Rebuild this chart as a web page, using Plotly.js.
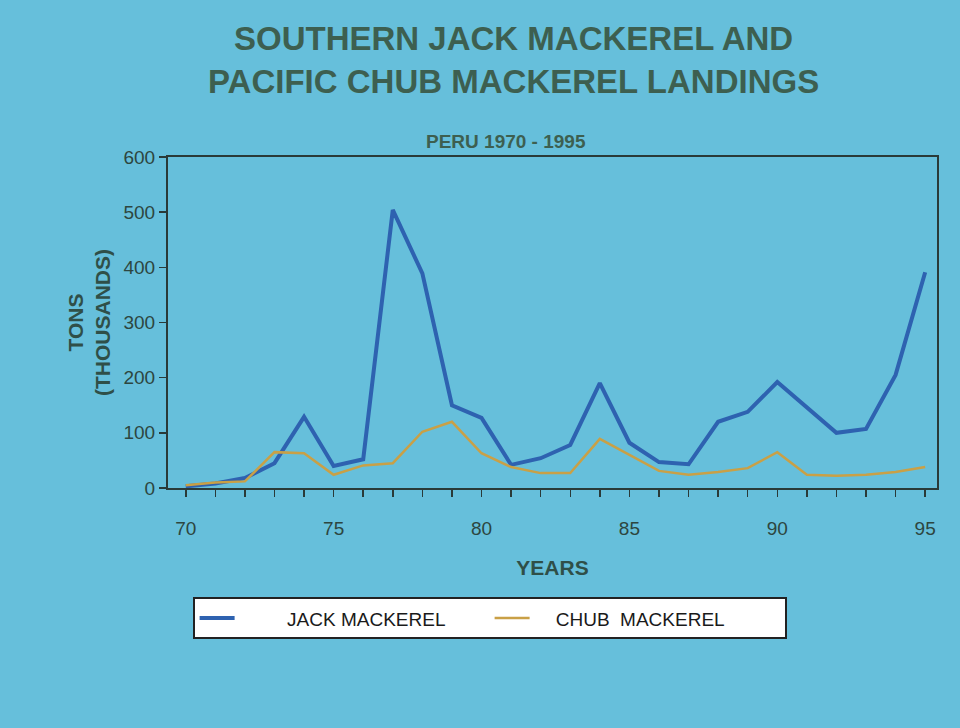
<!DOCTYPE html>
<html>
<head>
<meta charset="utf-8">
<script src="https://cdn.plot.ly/plotly-3.0.1.min.js"></script>
<style>html,body{margin:0;padding:0;background:#66bfdb;}#chart{width:960px;height:728px;}</style>
</head>
<body>
<div id="chart"></div>
<script>
var years = [70,71,72,73,74,75,76,77,78,79,80,81,82,83,84,85,86,87,88,89,90,91,92,93,94,95];
var jackMackerel = [3,8,18,45,129,40,52,504,389,150,127,42,54,78,190,82,47,43,120,138,192,145,100,107,205,391];
var chubMackerel = [5,10,12,65,63,24,41,45,102,120,63,38,27,27,89,60,31,24,29,36,65,24,22,24,29,38];
var seriesNames = ["\u00a0\u00a0\u00a0\u00a0\u00a0\u00a0\u00a0\u00a0\u00a0JACK MACKEREL", "\u00a0\u00a0\u00a0\u00a0CHUB\u00a0 MACKEREL"];
var titleText = "SOUTHERN JACK MACKEREL AND<br>PACIFIC CHUB MACKEREL LANDINGS";
var subtitleText = "PERU 1970 - 1995";
var xTitle = "YEARS";
var yTitle = "TONS<br>(THOUSANDS)";

var ink = "#33524a";
var traces = [
  {x: years, y: jackMackerel, name: seriesNames[0], mode: "lines", type: "scatter",
   line: {color: "#2e62b0", width: 4}},
  {x: years, y: chubMackerel, name: seriesNames[1], mode: "lines", type: "scatter",
   line: {color: "#c9a046", width: 2.5}}
];

var layout = {
  width: 960, height: 728,
  paper_bgcolor: "#66bfdb", plot_bgcolor: "#66bfdb",
  margin: {l: 168, r: 23, t: 157, b: 240},
  font: {family: "Liberation Sans, Arial, sans-serif", color: ink},
  title: {text: titleText, x: 0.535, xanchor: "center", y: 0.931, yanchor: "middle",
          font: {size: 33, color: "#3d5f50", family: "Liberation Sans, Arial, sans-serif", weight: "bold"}},
  xaxis: {
    range: [69.4, 95.4], dtick: 5, tick0: 70, showgrid: false, zeroline: false,
    ticks: "outside", ticklen: 7, tickwidth: 1.5, tickcolor: "#2a3a38",
    minor: {dtick: 1, ticks: "outside", ticklen: 7, tickwidth: 1.5, tickcolor: "#2a3a38", showgrid: false},
    showline: true, linecolor: "#2a3a38", linewidth: 2, mirror: true,
    ticklabelstandoff: 15,
    tickfont: {size: 19, color: "#2d4640"},
    title: {text: xTitle, standoff: 23, font: {size: 21, color: "#2f4f48", weight: "bold"}}
  },
  yaxis: {
    range: [0, 600], dtick: 100, showgrid: false, zeroline: false,
    ticks: "outside", ticklen: 7, tickwidth: 1.5, tickcolor: "#2a3a38",
    showline: true, linecolor: "#2a3a38", linewidth: 2, mirror: true,
    tickfont: {size: 19, color: "#2d4640"},
    title: {text: yTitle, standoff: 7, font: {size: 21, color: "#2f4f48", weight: "bold"}}
  },
  annotations: [
    {text: subtitleText, xref: "paper", yref: "paper", x: 0.44, y: 1.01, xanchor: "center", yanchor: "bottom",
     showarrow: false, font: {size: 19, color: "#3d5f50", weight: "bold"}}
  ],
  showlegend: true,
  legend: {
    orientation: "h", x: 0.032, y: -0.33, xanchor: "left", yanchor: "top",
    bgcolor: "#ffffff", bordercolor: "#222222", borderwidth: 2,
    itemwidth: 35, entrywidth: 245, entrywidthmode: "pixels",
    font: {size: 19, color: "#1a1a1a"}
  }
};

Plotly.newPlot("chart", traces, layout, {displayModeBar: false, staticPlot: true});
</script>
</body>
</html>
